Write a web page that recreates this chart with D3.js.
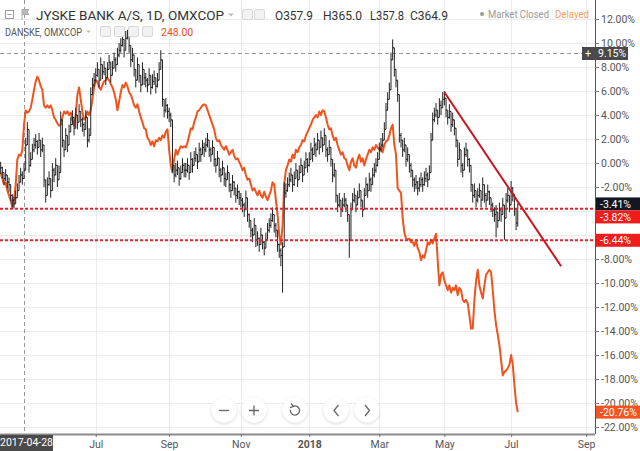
<!DOCTYPE html>
<html><head><meta charset="utf-8">
<script src="https://cdn.jsdelivr.net/npm/d3@7"></script>
<style>html,body{margin:0;padding:0;background:#fff}svg{display:block}</style>
</head><body>
<svg id="c" width="640" height="451"></svg>
<script>
// ---------- DATA (percent change, daily bars) ----------
const startDate = "2017-04-05";
const endDate = "2018-09-30";
const holidays = ["2017-04-13","2017-04-14","2017-04-17","2017-05-12","2017-05-25","2017-06-05",
  "2017-12-25","2017-12-26","2018-01-01","2018-03-29","2018-03-30","2018-04-02","2018-04-27",
  "2018-05-10","2018-05-11","2018-05-21","2018-06-05"];

const jyskeClose = [
 -0.4,-0.8,-1.3,-1.0,-1.6,-1.8,-2.7,-3.1,-3.4,-2.9,-2.3,-1.6,-1.0,-1.3,-0.6,
 1.5,2.8,-0.2,0.3,1.1,1.5,1.8,1.3,1.9,1.1,1.5,-1.4,-2.7,-1.8,-1.3,-2.3,-0.6,-1.0,-0.2,-1.4,-0.8,
 3.6,1.9,1.1,2.3,1.5,2.6,3.2,3.8,2.9,4.0,3.4,4.3,3.6,3.2,2.8,3.8,1.9,2.3,5.7,6.5,6.9,
 7.3,7.8,6.9,8.2,7.6,7.9,7.1,7.8,8.4,7.3,7.9,8.6,8.2,9.0,9.4,9.8,10.3,9.4,10.4,10.9,9.8,
 8.6,9.0,7.8,6.9,8.2,7.3,6.5,7.8,7.1,6.9,6.5,7.3,6.3,6.8,7.1,6.4,6.9,7.8,8.6,5.3,4.4,4.8,4.3,
 4.0,3.6,-0.2,-1.0,-0.6,-0.4,-1.3,-0.8,-0.2,-0.6,-0.6,-0.2,-0.8,0.3,-0.2,0.4,0.7,0.1,1.1,0.7,1.3,
 1.1,1.5,1.9,1.1,0.7,1.3,0.3,-0.2,0.4,-0.6,-1.0,-0.4,-1.3,-1.4,-0.8,-1.8,-2.3,-1.6,-2.1,-2.7,-2.4,-2.9,
 -3.1,-3.5,-3.9,-2.9,-4.3,-4.8,-5.6,-6.0,-5.2,-6.4,-6.3,-6.8,-6.0,-6.6,-7.1,-6.4,-5.6,-5.2,-4.8,-4.3,-5.2,-5.6,
 -6.8,-7.3,-7.7,-7.0,-2.5,-2.3,-1.8,-1.4,-1.0,-1.8,-1.3,-0.6,-1.4,-0.8,-0.2,-1.0,-0.4,0.3,-0.2,
 0.3,1.1,0.7,1.5,1.1,1.9,1.3,2.1,1.5,2.3,1.1,0.7,1.3,0.3,-1.0,-0.6,-2.7,-3.5,-3.1,-3.9,-3.5,-3.1,
 -3.5,-4.3,-6.4,-3.9,-3.1,-2.7,-3.5,-2.9,-2.3,-3.1,-3.9,-2.7,-1.8,-2.3,-1.4,-1.8,-1.0,-0.6,-0.2,0.3,
 1.1,1.5,1.9,2.8,4.4,5.3,6.1,8.6,9.6,7.8,6.9,5.7,2.3,1.9,1.1,1.5,0.3,0.7,-0.2,-0.6,
 -1.4,-1.8,-1.6,-2.1,-1.8,-1.4,-1.8,-1.3,-1.0,-1.4,-0.8,1.9,3.6,4.0,4.4,3.8,4.8,4.6,5.3,
 5.4,4.4,3.8,4.3,3.2,3.6,2.9,1.9,0.3,1.1,-0.2,-0.6,0.7,1.1,0.3,-0.2,-1.8,-2.7,-2.3,-3.1,
 -2.7,-2.3,-3.1,-1.8,-2.7,-3.1,-2.4,-2.9,-3.5,-3.9,-4.3,-4.1,-4.8,-3.9,-4.3,-3.5,-4.6,-3.1,-2.7,-3.5,
 -2.1,-2.6,-3.8,-5.0,-3.41];
const jyskeHigh = [
 0.1,-0.3,-0.8,-0.5,-1.0,-1.2,-2.0,-2.6,-2.8,-2.3,-1.7,-1.0,-0.4,-0.7,0.0,
 2.1,3.4,0.4,0.9,1.6,2.1,2.4,1.9,2.5,1.7,2.1,-0.8,-2.1,-1.2,-0.7,-1.7,0.0,-0.4,0.4,-0.8,-0.2,
 4.3,2.5,1.7,2.9,2.1,3.2,3.8,4.4,3.5,4.6,4.0,4.9,4.2,3.8,3.4,4.4,2.5,2.9,6.3,7.1,7.5,
 7.9,8.4,7.5,8.8,8.2,8.5,7.7,8.4,9.0,7.9,8.5,9.2,8.8,9.6,10.0,10.4,10.9,10.0,11.0,11.1,10.4,
 9.2,9.6,8.4,7.5,8.8,7.9,7.1,8.4,7.7,7.5,7.1,7.9,6.9,7.4,7.7,7.0,7.5,8.4,9.4,5.9,5.0,5.4,4.9,
 4.6,4.2,0.4,-0.4,0.0,0.2,-0.7,-0.2,0.4,0.0,0.0,0.4,-0.2,0.9,0.4,1.0,1.3,0.7,1.7,1.3,1.9,
 1.7,2.1,2.5,1.7,1.3,1.9,0.9,0.4,1.0,0.0,-0.4,0.2,-0.7,-0.8,-0.2,-1.2,-1.7,-1.0,-1.5,-2.1,-1.8,-2.3,
 -2.5,-2.9,-3.3,-2.3,-3.7,-4.2,-5.0,-5.4,-4.6,-5.8,-5.7,-6.2,-5.4,-6.0,-6.5,-5.8,-5.0,-4.6,-4.2,-3.7,-4.6,-5.0,
 -6.2,-6.7,-7.1,-6.6,-1.6,-1.7,-1.2,-0.8,-0.4,-1.2,-0.7,0.0,-0.8,-0.2,0.4,-0.4,0.2,0.9,0.4,
 0.9,1.7,1.3,2.1,1.7,2.5,1.9,2.7,2.1,2.9,1.7,1.3,1.9,0.9,-0.4,0.0,-2.1,-2.9,-2.5,-3.3,-2.9,-2.5,
 -2.9,-3.7,-5.8,-3.3,-2.5,-2.1,-2.9,-2.3,-1.7,-2.5,-3.3,-2.1,-1.2,-1.7,-0.8,-1.2,-0.4,0.0,0.4,0.9,
 1.7,2.1,2.5,3.4,5.0,5.9,6.7,9.2,10.3,8.4,7.5,6.3,2.9,2.5,1.7,2.1,0.9,1.3,0.4,0.0,
 -0.8,-1.2,-1.0,-1.5,-1.2,-0.8,-1.2,-0.7,-0.4,-0.8,-0.2,2.5,4.2,4.6,5.0,4.4,5.4,5.2,5.9,
 6.0,5.0,4.4,4.9,3.8,4.2,3.5,2.5,0.9,1.7,0.4,0.0,1.3,1.7,0.9,0.4,-1.2,-2.1,-1.7,-2.5,
 -2.1,-1.7,-2.5,-1.2,-2.1,-2.5,-1.8,-2.3,-2.9,-3.3,-3.7,-3.5,-4.2,-3.3,-3.7,-2.9,-4.0,-2.5,-2.1,-2.9,
 -1.5,-2.0,-3.2,-4.4,-3.39];
const jyskeLow = [
 -0.9,-1.3,-1.8,-1.5,-2.1,-2.4,-3.2,-3.7,-3.8,-3.4,-2.8,-2.1,-1.5,-1.8,-1.1,
 0.9,2.2,-0.8,-0.3,0.5,0.9,1.2,0.7,1.3,0.5,0.9,-2.0,-3.3,-2.4,-1.9,-2.9,-1.2,-1.6,-0.8,-2.0,-1.4,
 3.0,1.3,0.5,1.7,0.9,2.0,2.6,3.2,2.3,3.4,2.8,3.7,3.0,2.6,2.2,3.2,1.3,1.7,5.1,5.9,6.3,
 6.7,7.2,6.3,7.6,7.0,7.3,6.5,7.2,7.8,6.7,7.3,8.0,7.6,8.4,8.8,9.2,9.7,8.8,9.8,10.3,9.2,
 8.0,8.4,7.2,6.3,7.6,6.7,5.9,7.2,6.5,6.3,5.9,6.7,5.7,6.2,6.5,5.8,6.3,7.2,8.0,4.7,3.8,4.2,3.7,
 3.4,3.0,-0.8,-1.6,-1.2,-1.0,-1.9,-1.4,-0.8,-1.2,-1.2,-0.8,-1.4,-0.3,-0.8,-0.2,0.1,-0.5,0.5,0.1,0.7,
 0.5,0.9,1.3,0.5,0.1,0.7,-0.3,-0.8,-0.2,-1.2,-1.6,-1.0,-1.9,-2.0,-1.4,-2.4,-2.9,-2.2,-2.7,-3.3,-3.0,-3.5,
 -3.7,-4.1,-4.5,-3.5,-4.9,-5.4,-6.2,-6.6,-5.8,-7.0,-6.9,-7.4,-6.6,-7.2,-7.7,-7.0,-6.2,-5.8,-5.4,-4.9,-5.8,-6.2,
 -7.4,-7.9,-8.6,-10.8,-6.8,-2.9,-2.4,-2.0,-1.6,-2.4,-1.9,-1.2,-2.0,-1.4,-0.8,-1.6,-1.0,-0.3,-0.8,
 -0.3,0.5,0.1,0.9,0.5,1.3,0.7,1.5,0.9,1.7,0.5,0.1,0.7,-0.3,-1.6,-1.2,-3.3,-4.1,-3.7,-4.5,-4.1,-3.7,
 -4.1,-4.9,-7.9,-4.5,-3.7,-3.3,-4.1,-3.5,-2.9,-3.7,-4.5,-3.3,-2.4,-2.9,-2.0,-2.4,-1.6,-1.2,-0.8,-0.3,
 0.5,0.9,1.3,2.2,3.8,4.7,5.5,8.0,9.0,7.2,6.3,5.1,1.7,1.3,0.5,0.9,-0.3,0.1,-0.8,-1.2,
 -2.0,-2.4,-2.2,-2.7,-2.4,-2.0,-2.4,-1.9,-1.6,-2.0,-1.4,1.3,3.0,3.4,3.8,3.2,4.2,4.0,4.7,
 4.8,3.8,3.2,3.7,2.6,3.0,2.3,1.3,-0.3,0.5,-0.8,-1.2,0.1,0.5,-0.3,-0.8,-2.4,-3.3,-2.9,-3.7,
 -3.3,-2.9,-3.7,-2.4,-3.3,-3.7,-3.0,-3.5,-4.1,-4.5,-4.9,-6.2,-5.4,-4.5,-4.9,-4.1,-6.4,-3.7,-3.3,-4.1,
 -2.7,-3.2,-4.4,-5.6,-5.30];
const danskeClose = [
 -0.8,-1.3,-1.8,-1.6,-2.3,-2.7,-3.1,-3.7,-3.1,-1.8,0.3,0.7,0.6,1.1,3.2,
 4.4,4.2,4.3,4.6,5.3,6.1,6.8,7.2,6.9,6.4,6.1,4.8,4.6,4.8,4.6,4.8,4.4,3.8,3.6,3.3,3.1,
 3.2,3.8,4.3,4.1,4.3,4.0,4.2,3.6,3.1,4.0,5.7,6.3,5.3,4.3,3.6,3.8,4.3,4.0,4.4,5.3,6.3,
 6.9,6.8,6.3,6.1,6.5,6.8,6.9,7.1,6.9,6.6,6.3,5.9,5.3,4.4,5.1,5.9,6.5,6.3,6.7,6.4,5.9,
 5.7,5.3,4.8,4.6,4.9,4.3,3.8,3.4,2.9,2.8,2.1,1.9,1.5,1.8,1.4,1.9,1.8,2.1,1.9,2.3,2.1,2.6,2.8,
 1.1,-0.2,-0.8,0.3,1.1,0.7,1.1,1.4,1.3,1.4,1.3,1.7,2.3,2.9,2.8,3.4,3.8,4.3,4.4,4.6,4.8,
 4.9,4.8,4.4,4.0,3.6,3.2,2.8,2.1,1.8,1.9,1.5,1.3,1.1,1.4,1.1,0.7,0.9,1.1,0.6,0.3,0.4,0.1,
 -0.2,-0.6,-0.4,-1.0,-1.4,-1.3,-1.8,-2.3,-2.1,-2.4,-2.7,-2.3,-2.7,-2.9,-2.4,-2.8,-3.1,-2.7,-2.3,-1.6,-1.8,-3.1,
 -4.3,-6.0,-6.8,-5.2,-1.8,-0.6,-0.2,0.3,0.1,0.7,0.4,1.1,0.9,1.3,1.5,1.9,1.8,2.3,2.6,
 2.9,3.2,3.6,3.8,4.0,3.8,4.3,4.0,4.4,4.3,3.8,3.2,2.8,2.9,2.3,1.9,2.1,1.5,1.1,0.7,0.9,0.4,
 0.3,-0.2,-0.6,0.1,0.4,-0.2,-0.4,0.3,0.7,0.1,0.4,-0.2,0.3,0.7,1.1,0.9,1.3,1.1,1.5,1.3,
 1.1,1.3,0.9,1.5,1.8,1.9,2.3,2.9,3.2,1.5,0.7,-2.1,-2.3,-2.5,-4.6,-5.8,-6.3,-6.4,-6.3,-6.6,
 -6.6,-6.9,-6.4,-7.1,-7.4,-8.1,-7.7,-7.9,-7.3,-6.6,-6.8,-6.4,-6.7,-6.3,-5.9,-8.1,-10.2,-9.3,-9.1,
 -9.8,-10.2,-10.6,-10.2,-10.8,-10.4,-10.6,-10.2,-11.0,-10.4,-10.6,-11.4,-11.6,-11.4,-11.7,-12.7,-13.8,-13.8,-11.4,-9.8,
 -8.9,-10.2,-10.8,-11.3,-10.2,-9.3,-9.1,-8.9,-9.1,-10.6,-12.3,-13.5,-14.3,-15.2,-16.4,-17.7,-17.4,-17.3,-17.1,-16.8,
 -16.0,-16.8,-18.5,-20.0,-20.76];

const pctTicks = [12,10,8,6,4,2,0,-2,-4,-6,-8,-10,-12,-14,-16,-18,-20,-22];
const monthTickStarts = ["2017-07-01","2017-09-01","2017-11-01","2018-01-01","2018-03-01","2018-05-01","2018-07-01","2018-09-01"];
const monthTickLabels = ["Jul","Sep","Nov","2018","Mar","May","Jul","Sep"];
const horizontalLevels = [-3.82, -6.44];
const trendPoints = [{date:"2018-05-01", value:5.9},{date:"2018-08-13", value:-8.6}];
const crosshair = {date:"2017-04-28", value:9.15};
const lastLabels = [
  {value:-3.41, text:"-3.41%", bg:"#131722"},
  {value:-3.82, text:"-3.82%", bg:"#f01b1b"},
  {value:-6.44, text:"-6.44%", bg:"#f01b1b"},
  {value:-20.76, text:"-20.76%", bg:"#f25424"}
];
const legendOHLC = [["O","357.9"],["H","365.0"],["L","357.8"],["C","364.9"]];

// ---------- CALENDAR ----------
const hol = new Set(holidays);
const tradingDays = [];
for (let d = new Date(startDate+"T00:00:00Z"); d <= new Date(endDate+"T00:00:00Z"); d.setUTCDate(d.getUTCDate()+1)) {
  const wd = d.getUTCDay(), s = d.toISOString().slice(0,10);
  if (wd>0 && wd<6 && !hol.has(s)) tradingDays.push(s);
}
const idxOf = s => { for (let i=0;i<tradingDays.length;i++) if (tradingDays[i] >= s) return i; return tradingDays.length-1; };

// ---------- LAYOUT ----------
const W = 640, H = 451, plotR = 595, plotB = 434;
const FONT = "Roboto, 'Open Sans', sans-serif";
const svg = d3.select("#c").attr("font-family", FONT);
const x = d3.scaleLinear().domain([-0.4, 356.3]).range([0, plotR]);
const y = d3.scaleLinear().domain([12, -22]).range([19, 427]);

const defs = svg.append("defs");
defs.append("clipPath").attr("id","plot").append("rect").attr("x",0).attr("y",0).attr("width",plotR).attr("height",plotB);
const f = defs.append("filter").attr("id","sh").attr("x","-50%").attr("y","-50%").attr("width","200%").attr("height","200%");
f.append("feDropShadow").attr("dx",0).attr("dy",1).attr("stdDeviation",1.5).attr("flood-color","#000").attr("flood-opacity",0.18);

// grid
const monthIdx = monthTickStarts.map(idxOf);
const grid = svg.append("g");
grid.selectAll("line.h").data(pctTicks).join("line")
  .attr("x1",0).attr("x2",plotR).attr("y1",d=>Math.round(y(d))+0.5).attr("y2",d=>Math.round(y(d))+0.5)
  .attr("stroke","#e9ebee").attr("stroke-width",1);
grid.selectAll("line.v").data(monthIdx).join("line")
  .attr("y1",0).attr("y2",plotB).attr("x1",d=>Math.round(x(d))+0.5).attr("x2",d=>Math.round(x(d))+0.5)
  .attr("stroke","#e9ebee").attr("stroke-width",1);

const plot = svg.append("g").attr("clip-path","url(#plot)");

// crosshair
const chX = Math.round(x(idxOf(crosshair.date)))+0.5, chY = Math.round(y(crosshair.value))+0.5;
plot.append("line").attr("x1",chX).attr("x2",chX).attr("y1",0).attr("y2",plotB)
  .attr("stroke","#9a9a9a").attr("stroke-dasharray","4,3");
plot.append("line").attr("x1",0).attr("x2",plotR).attr("y1",chY).attr("y2",chY)
  .attr("stroke","#9a9a9a").attr("stroke-dasharray","4,3");

// Danske line
plot.append("path").datum(danskeClose)
  .attr("d", d3.line().x((d,i)=>x(i)).y(d=>y(d)))
  .attr("fill","none").attr("stroke","#f0541e").attr("stroke-width",2).attr("stroke-linejoin","round");

// Jyske OHLC bars
const n = Math.min(jyskeClose.length, jyskeHigh.length, jyskeLow.length);
let p = "";
for (let i=0;i<n;i++) {
  const c = jyskeClose[i], o = i>0 ? jyskeClose[i-1] : c;
  const hi = Math.max(jyskeHigh[i], o, c), lo = Math.min(jyskeLow[i], o, c);
  const xi = x(i);
  p += `M${xi},${y(hi)}V${y(lo)}M${xi-1.2},${y(o)}H${xi}M${xi},${y(c)}H${xi+1.2}`;
}
plot.append("path").attr("d",p).attr("fill","none").attr("stroke","#222").attr("stroke-width",1);

// horizontal levels
plot.selectAll("line.lvl").data(horizontalLevels).join("line")
  .attr("x1",0).attr("x2",plotR).attr("y1",d=>y(d)).attr("y2",d=>y(d))
  .attr("stroke","#e3262b").attr("stroke-width",2).attr("stroke-dasharray","3,2");

// trend line
plot.append("line")
  .attr("x1",x(idxOf(trendPoints[0].date))).attr("y1",y(trendPoints[0].value))
  .attr("x2",x(idxOf(trendPoints[1].date))).attr("y2",y(trendPoints[1].value))
  .attr("stroke","#c8141c").attr("stroke-width",2);

// label box positions (collision avoidance), computed before axis so covered ticks can be hidden
const BH = 13;
let prevBottom = -Infinity;
const boxes = lastLabels.map(d=>({...d, cy:y(d.value)})).sort((a,b)=>a.cy-b.cy).map(d=>{
  let top = d.cy - BH/2; if (top < prevBottom) top = prevBottom; prevBottom = top + BH;
  return {...d, top};
});
const chY0 = Math.round(y(crosshair.value))+0.5;
const allBoxTops = boxes.map(b=>b.top).concat([chY0-6.5]);
const covered = v => allBoxTops.some(t => { const ty = y(v); const ov = Math.min(ty+5, t+BH) - Math.max(ty-5, t); return ov > 3; });

// right axis
const ra = svg.append("g").attr("transform",`translate(${plotR},0)`)
  .call(d3.axisRight(y).tickValues(pctTicks).tickSize(4).tickPadding(2).tickFormat(d=>d.toFixed(2)+"%"));
ra.select(".domain").attr("stroke","#555").attr("d",`M0.5,0V${plotB}`);
ra.selectAll(".tick line").attr("stroke","#777");
ra.selectAll(".tick text").attr("fill","#555").attr("font-size",10.5).attr("font-family",FONT)
  .style("display", d => covered(d) ? "none" : null);

// bottom axis
const ba = svg.append("g").attr("transform",`translate(0,${plotB})`)
  .call(d3.axisBottom(x).tickValues(monthIdx).tickSize(3).tickPadding(4).tickFormat((d,i)=>monthTickLabels[i]));
ba.select(".domain").attr("stroke","#8a8a8a").attr("stroke-width",2).attr("d",`M0,0.5H${plotR}`);
ba.selectAll(".tick line").attr("stroke","#777");
ba.selectAll(".tick text").attr("fill","#555").attr("font-size",10.5).attr("font-family",FONT)
  .attr("font-weight",(d,i)=>monthTickLabels[i]==="2018"?"bold":"normal");

// last-value labels
boxes.forEach(d=>{
  svg.append("rect").attr("x",596).attr("y",d.top).attr("width",W-596).attr("height",BH).attr("fill",d.bg);
  svg.append("text").attr("x",600).attr("y",d.top+BH/2+3.8).attr("fill","#fff").attr("font-size",10.5).text(d.text);
});
// crosshair price label
svg.append("rect").attr("x",582).attr("y",chY-6.5).attr("width",46).attr("height",BH).attr("fill","#4a4a4a");
svg.append("text").attr("x",585).attr("y",chY+3.8).attr("fill","#fff").attr("font-size",11).text("+");
svg.append("text").attr("x",598).attr("y",chY+3.8).attr("fill","#fff").attr("font-size",10.5).text(crosshair.value.toFixed(2)+"%");
// crosshair date label
svg.append("rect").attr("x",0).attr("y",plotB+1).attr("width",53).attr("height",H-plotB-1).attr("fill","#4a4a4a");
svg.append("text").attr("x",26.5).attr("y",plotB+12).attr("text-anchor","middle").attr("fill","#fff").attr("font-size",10.5).text(crosshair.date);

// ---------- LEGEND ----------
const lg = svg.append("g");
lg.append("rect").attr("x",5.5).attr("y",10.5).attr("width",8).attr("height",8).attr("fill","none").attr("stroke","#999");
lg.append("line").attr("x1",7.5).attr("x2",11.5).attr("y1",14.5).attr("y2",14.5).attr("stroke","#999");
lg.append("path").attr("d","M22,9V20M22,9.5H29L27,12L29,14.5H22").attr("fill","#bbb").attr("stroke","#aaa");
lg.append("text").attr("x",36).attr("y",19.5).attr("font-size",13.5).attr("fill","#333")
  .attr("textLength",188).attr("lengthAdjust","spacingAndGlyphs").text("JYSKE BANK A/S, 1D, OMXCOP");
lg.append("path").attr("d","M228,13.5h6l-3,3z").attr("fill","#bbb");
[242,254].forEach(xx=>lg.append("rect").attr("x",xx+0.5).attr("y",9.5).attr("width",10).attr("height",10).attr("rx",1.5).attr("fill","#f2f2f2").attr("stroke","#d8d8d8"));
const ohlcX = [275,323,370,410], ohlcW = [38,39,34,38];
legendOHLC.forEach((d,i)=>{
  lg.append("text").attr("x",ohlcX[i]).attr("y",19.5).attr("font-size",12.5).attr("fill","#333")
    .attr("textLength",ohlcW[i]).attr("lengthAdjust","spacingAndGlyphs").text(d[0]+d[1]);
});
lg.append("circle").attr("cx",482).attr("cy",14).attr("r",2).attr("fill","#999");
lg.append("text").attr("x",488).attr("y",18).attr("font-size",10.5).attr("fill","#9a9a9a")
  .attr("textLength",61).attr("lengthAdjust","spacingAndGlyphs").text("Market Closed");
lg.append("text").attr("x",555).attr("y",18).attr("font-size",10.5).attr("fill","#f2a25a")
  .attr("textLength",34).attr("lengthAdjust","spacingAndGlyphs").text("Delayed");

lg.append("text").attr("x",5).attr("y",36).attr("font-size",10.5).attr("fill","#555")
  .attr("textLength",77).attr("lengthAdjust","spacingAndGlyphs").text("DANSKE, OMXCOP");
lg.append("path").attr("d","M86,30.5h5l-2.5,2.5z").attr("fill","#bbb");
[100,114,128,142].forEach(xx=>lg.append("rect").attr("x",xx+0.5).attr("y",26.5).attr("width",10).attr("height",10).attr("rx",1.5).attr("fill","#f2f2f2").attr("stroke","#d8d8d8"));
lg.append("text").attr("x",161).attr("y",36).attr("font-size",10.5).attr("fill","#e8501e").text("248.00");

// ---------- NAV BUTTONS ----------
const nav = svg.append("g");
const btns = [224,254,295,336,367];
btns.forEach(cx=>nav.append("circle").attr("cx",cx).attr("cy",410).attr("r",12.5).attr("fill","#fff").attr("filter","url(#sh)"));
nav.append("line").attr("x1",219).attr("x2",229).attr("y1",410.5).attr("y2",410.5).attr("stroke","#666").attr("stroke-width",1.3);
nav.append("path").attr("d","M249,410.5H259M254,405.5V415.5").attr("stroke","#666").attr("stroke-width",1.3);
nav.append("path").attr("d",d3.arc()({innerRadius:4.6,outerRadius:4.6,startAngle:-0.6,endAngle:Math.PI*1.55}))
  .attr("transform","translate(295,410.5)").attr("fill","none").attr("stroke","#666").attr("stroke-width",1.3);
nav.append("path").attr("d","M291,403.5L293.5,406.5L290,407.5").attr("fill","none").attr("stroke","#666").attr("stroke-width",1.3);
nav.append("path").attr("d","M338.5,405L334,410.5L338.5,416").attr("fill","none").attr("stroke","#666").attr("stroke-width",1.3);
nav.append("path").attr("d","M365,405L369.5,410.5L365,416").attr("fill","none").attr("stroke","#666").attr("stroke-width",1.3);
</script>
</body></html>
